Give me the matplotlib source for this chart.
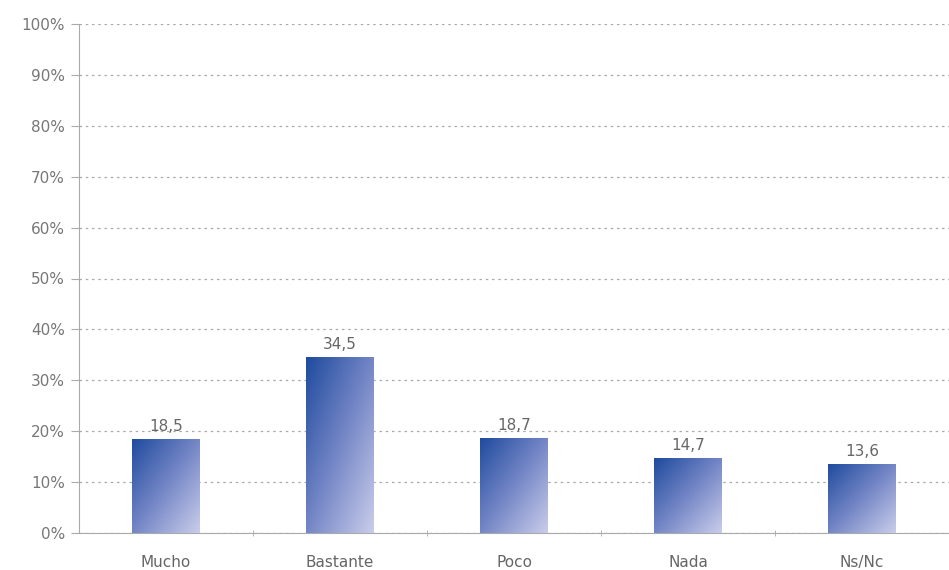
import matplotlib
matplotlib.use("Agg")
import matplotlib.pyplot as plt
import numpy as np
from matplotlib.colors import LinearSegmentedColormap

categories = ["Mucho", "Bastante", "Poco", "Nada", "Ns/Nc"]
values = [18.5, 34.5, 18.7, 14.7, 13.6]
value_labels = ["18,5", "34,5", "18,7", "14,7", "13,6"]
yticks = [0, 10, 20, 30, 40, 50, 60, 70, 80, 90, 100]
ytick_labels = [f"{t}%" for t in yticks]

plt.rcParams['font.family'] = ['DejaVu Sans']
fig = plt.figure(figsize=(9.49, 5.70), dpi=100)
ax = fig.add_axes([79/949, 1-533/570, 1-79/949, (533-24)/570])

cmap = LinearSegmentedColormap.from_list("g", ["#1f4b9e", "#7486c6", "#c9cdeb"])
xx, yy = np.meshgrid(np.linspace(0, 1, 100), np.linspace(0, 1, 100))
grad = (xx + yy) / 2.0  # row 0 is top: 0 at top-left, 1 at bottom-right

width = 0.39
bars = ax.bar(range(len(categories)), values, width=width, color="none", edgecolor="none", zorder=3)
for i, (b, v) in enumerate(zip(bars, values)):
    x0 = b.get_x()
    im = ax.imshow(grad, cmap=cmap, extent=[x0, x0 + width, 0, v], origin="upper",
                   aspect="auto", zorder=3, interpolation="bilinear")
    im.set_clip_path(b)
    ax.text(i, v + 1.0, value_labels[i], ha="center", va="bottom", fontsize=11, color="#666666")

ax.set_xlim(-0.5, len(categories) - 0.5)
ax.set_ylim(0, 100)

ax.set_yticks(yticks)
ax.set_yticklabels(ytick_labels, fontsize=11, color="#777777")
ax.yaxis.grid(True, linestyle=(0, (2, 3)), color="#aaaaaa", linewidth=0.9, zorder=0)
ax.set_axisbelow(True)

ax.set_xticks(np.arange(len(categories)))
ax.set_xticklabels(categories, fontsize=11, color="#666666")
ax.set_xticks(np.arange(len(categories) - 1) + 0.5, minor=True)
ax.tick_params(axis="x", which="major", length=0, pad=16)
ax.tick_params(axis="x", which="minor", length=5, color="#aaaaaa", direction="inout")
ax.tick_params(axis="y", length=6, color="#aaaaaa", pad=4)

for s in ["top", "right"]:
    ax.spines[s].set_visible(False)
ax.spines["left"].set_color("#aaaaaa")
ax.spines["bottom"].set_color("#aaaaaa")

fig.savefig("out.png", dpi=100)
